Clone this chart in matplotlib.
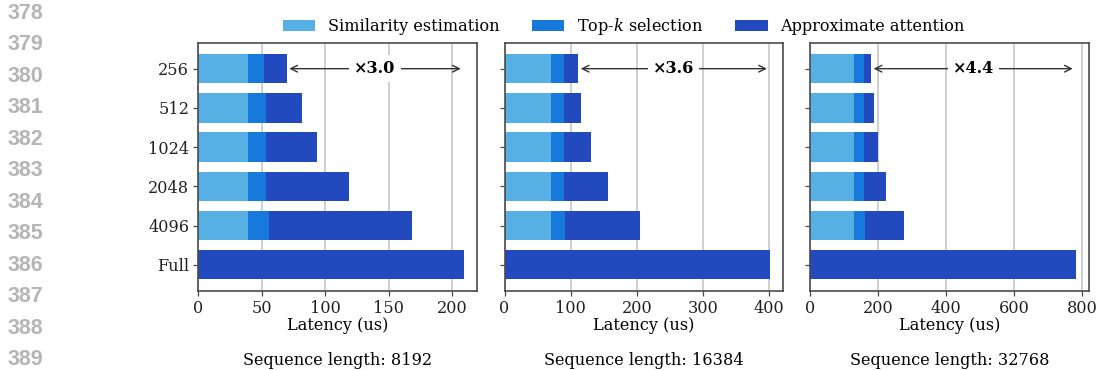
import matplotlib
matplotlib.use("Agg")
import matplotlib.pyplot as plt
import numpy as np

# ---- data ----
categories = ['256', '512', '1024', '2048', '4096', 'Full']
seq_lengths = ['8192', '16384', '32768']

sim_8192 = [39.0, 39.0, 39.0, 39.0, 39.0, 0]
topk_8192 = [12.6, 14.1, 14.1, 14.1, 16.6, 0]
attn_8192 = [17.8, 28.3, 40.1, 65.3, 112.9, 208.7]

sim_16384 = [70.2, 70.2, 70.2, 70.2, 70.2, 0]
topk_16384 = [19.7, 19.7, 19.7, 19.7, 21.2, 0]
attn_16384 = [21.1, 25.7, 40.8, 66.4, 113.3, 400.6]

sim_32768 = [128.3, 128.3, 128.3, 128.3, 128.3, 0]
topk_32768 = [29.4, 29.4, 29.4, 29.4, 32.7, 0]
attn_32768 = [20.6, 29.3, 41.2, 64.9, 114.3, 781.0]

speedup_labels = ['×3.0', '×3.6', '×4.4']
xticks_8192 = [0, 50, 100, 150, 200]
xticks_16384 = [0, 100, 200, 300, 400]
xticks_32768 = [0, 200, 400, 600, 800]

legend_labels = ['Similarity estimation', 'Top-$k$ selection', 'Approximate attention']
line_numbers = list(range(378, 390))

# ---- style ----
c_sim = '#56B0E4'
c_topk = '#1879DC'
c_attn = '#2249BE'
spine_c = '#4a4a4a'
FS = 11.6

plt.rcParams['font.family'] = ['DejaVu Serif']
plt.rcParams['mathtext.fontset'] = 'dejavuserif'

fig = plt.figure(figsize=(11, 3.7), dpi=100)

panels = [
    (sim_8192, topk_8192, attn_8192, xticks_8192),
    (sim_16384, topk_16384, attn_16384, xticks_16384),
    (sim_32768, topk_32768, attn_32768, xticks_32768),
]
lefts_px = [198.3, 504.5, 810.3]
width_px = 278.5
top_px, bot_px = 42.7, 290.7
W, H = 1100, 370

y = np.arange(len(categories))
for i, (sim, topk, attn, xt) in enumerate(panels):
    ax = fig.add_axes([lefts_px[i] / W, 1 - bot_px / H, width_px / W, (bot_px - top_px) / H])
    sim = np.array(sim); topk = np.array(topk); attn = np.array(attn)
    h1 = ax.barh(y, sim, height=0.75, color=c_sim, label=legend_labels[0])
    h2 = ax.barh(y, topk, left=sim, height=0.75, color=c_topk, label=legend_labels[1])
    h3 = ax.barh(y, attn, left=sim + topk, height=0.75, color=c_attn, label=legend_labels[2])
    full = attn[-1]
    ax.set_xlim(0, full * 1.05)
    ax.set_xticks(xt)
    ax.set_yticks(y)
    if i == 0:
        ax.set_yticklabels(categories)
    else:
        ax.set_yticklabels([])
    ax.invert_yaxis()
    ax.set_axisbelow(True)
    ax.grid(axis='x', color='#cccccc', lw=1.3)
    for s in ax.spines.values():
        s.set_color(spine_c)
        s.set_linewidth(1.2)
    ax.tick_params(labelsize=FS, colors='#222222', length=3.5, width=0.9, pad=3)
    ax.tick_params(axis='both', color=spine_c)
    ax.set_xlabel('Latency (us)', fontsize=FS, labelpad=0)
    total0 = sim[0] + topk[0] + attn[0]
    ax.annotate('', xy=(full, 0), xytext=(total0, 0),
                arrowprops=dict(arrowstyle='<->', color='#333333', lw=1.0, mutation_scale=12))
    ax.text((total0 + full) / 2, 0, speedup_labels[i], ha='center', va='center',
            fontsize=FS, fontweight='bold',
            bbox=dict(facecolor='white', edgecolor='none', pad=3.5))
    cx = (lefts_px[i] + width_px / 2) / W
    fig.text(cx, 1 - 360.7 / H, 'Sequence length: ' + seq_lengths[i], ha='center', va='center', fontsize=FS)
    if i == 0:
        handles = [h1, h2, h3]

fig.legend(handles, legend_labels, loc='center', bbox_to_anchor=(624 / W, 1 - 26.7 / H),
           ncol=3, frameon=False, fontsize=FS)

for k, n in enumerate(line_numbers):
    fig.text(25 / W, 1 - (13.3 + 31.5 * k) / H, str(n), ha='center', va='center',
             fontsize=15.5, fontweight='bold', color='#b5b5b5', family='Liberation Sans')

fig.savefig('out.png', dpi=100)
